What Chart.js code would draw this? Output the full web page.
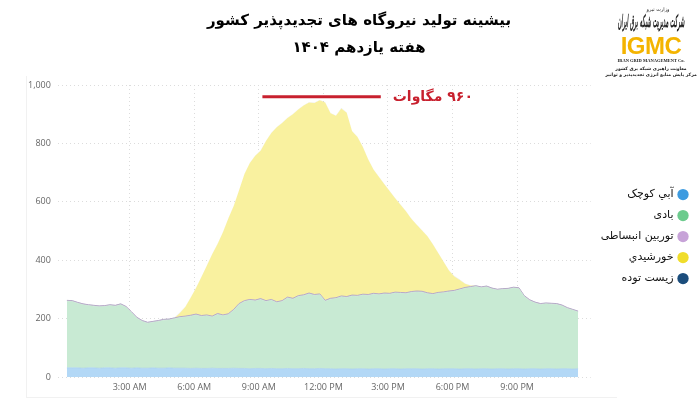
<!DOCTYPE html>
<html lang="fa">
<head>
<meta charset="utf-8">
<title>بیشینه تولید نیروگاه های تجدیدپذیر کشور</title>
<script src="https://cdn.jsdelivr.net/npm/chart.js@4.4.1/dist/chart.umd.min.js"></script>
<style>
body{margin:0;background:#fff;}
#wrap{position:relative;width:700px;height:399px;overflow:hidden;}
#frame{position:absolute;left:26px;top:76px;width:590px;height:321px;border-left:1px solid #f1f1f1;border-bottom:1px solid #f1f1f1;}
#grafico{direction:ltr;}
#logo{position:absolute;left:603px;top:7px;width:96px;text-align:center;direction:rtl;color:#222;font-family:"DejaVu Sans";line-height:1;}
#logo .l1{font-size:5px;margin-left:14px;}
#logo .l2{font-size:10px;font-style:italic;font-weight:bold;margin-top:2px;white-space:nowrap;transform:scale(0.5,1.7);height:16px;line-height:16px;margin-left:-40px;margin-right:-40px;}
#logo .l3{font-family:"Liberation Sans";font-weight:bold;font-size:24px;color:#f4b400;direction:ltr;margin-top:4px;letter-spacing:-0.5px;}
#logo .l4{font-family:"Liberation Serif";font-weight:bold;font-size:4.5px;direction:ltr;margin-top:1px;}
#logo .l5{font-size:4.5px;font-weight:bold;margin-top:3px;white-space:nowrap;}
#logo .l6{font-size:4.5px;font-weight:bold;margin-top:2px;white-space:nowrap;}
</style>
</head>
<body>
<div id="wrap">
  <div id="frame"></div>
  <canvas id="grafico" width="700" height="399"></canvas>
  <div id="logo">
    <div class="l1">وزارت نیرو</div>
    <div class="l2">شرکت مدیریت شبکه برق ایران</div>
    <div class="l3">IGMC</div>
    <div class="l4">IRAN GRID MANAGEMENT Co.</div>
    <div class="l5">معاونت راهبری شبکه برق کشور</div>
    <div class="l6">مرکز پایش منابع انرژی تجدیدپذیر و توانیر</div>
  </div>
</div>
<script>
const titulo = ['بیشینه تولید نیروگاه های تجدیدپذیر کشور', 'هفته یازدهم ۱۴۰۴'];
const nombresSeries = ['آبي کوچک', 'بادی', 'توربین انبساطی', 'خورشیدي', 'زیست توده'];
const coloresLeyenda = ['#3d9be0', '#6ccb8d', '#c7a3d8', '#f0dd2b', '#1b4d7c'];
const coloresRelleno = ['#b3d8f6', '#c8ead3', '#c9bcd6', '#f9f19f', 'rgba(27,77,124,0.15)'];
const coloresBorde = ['#a6cdef', '#c8ead3', '#b5a6c6', 'rgba(0,0,0,0)', 'rgba(0,0,0,0)'];

// hora de cada muestra (cada 15 min)
const horas = [
  '00:05','00:20','00:35','00:50','01:05','01:20','01:35','01:50','02:05','02:20','02:35','02:50',
  '03:05','03:20','03:35','03:50','04:05','04:20','04:35','04:50','05:05','05:20','05:35','05:50',
  '06:05','06:20','06:35','06:50','07:05','07:20','07:35','07:50','08:05','08:20','08:35','08:50',
  '09:05','09:20','09:35','09:50','10:05','10:20','10:35','10:50','11:05','11:20','11:35','11:50',
  '12:05','12:20','12:35','12:50','13:05','13:20','13:35','13:50','14:05','14:20','14:35','14:50',
  '15:05','15:20','15:35','15:50','16:05','16:20','16:35','16:50','17:05','17:20','17:35','17:50',
  '18:05','18:20','18:35','18:50','19:05','19:20','19:35','19:50','20:05','20:20','20:35','20:50',
  '21:05','21:20','21:35','21:50','22:05','22:20','22:35','22:50','23:05','23:20','23:35','23:50'
];
const abiKuchak = [
  32,32,32,31,32,32,31,32,32,31,32,32,
  31,32,31,31,32,31,31,32,31,31,31,30,
  31,30,30,31,30,30,30,31,30,30,29,30,
  30,29,30,29,29,30,29,29,30,29,29,30,
  29,29,28,29,29,28,29,29,28,29,29,28,
  29,29,28,29,29,29,28,29,29,28,29,29,
  29,28,29,29,28,29,29,28,29,29,28,29,
  29,28,29,29,28,29,29,28,29,29,28,29
];
const badi = [
  228,227,221,217,213,211,210,210,213,212,216,207,
  190,170,160,154,156,160,164,164,169,173,175,179,
  182,178,180,175,185,180,184,198,219,229,234,231,
  236,230,233,226,230,241,238,247,249,256,251,252,
  231,238,241,246,244,250,248,252,252,255,253,257,
  255,259,259,257,261,263,263,257,254,259,260,263,
  265,271,275,278,282,277,280,274,269,271,273,276,
  274,248,233,225,221,222,221,221,215,206,201,194
];
const turbinEnbesati = [
  3,3,3,3,3,3,3,3,3,3,3,3,
  3,3,3,3,3,3,3,3,3,3,3,3,
  3,3,3,3,3,3,3,3,3,3,3,3,
  3,3,3,3,3,3,3,3,3,3,3,3,
  3,3,3,3,3,3,3,3,3,3,3,3,
  3,3,3,3,3,3,3,3,3,3,3,3,
  3,3,3,3,3,3,3,3,3,3,3,3,
  3,3,3,3,3,3,3,3,3,3,3,3
];
const khorshidi = [
  0,0,0,0,0,0,0,0,0,0,0,0,
  0,0,0,0,0,0,0,0,0,13,31,60,
  89,132,168,212,238,283,326,354,388,433,467,494,
  506,546,570,597,608,613,630,637,648,652,655,663,
  677,633,623,642,629,561,542,504,462,423,400,372,
  349,321,300,279,249,227,208,193,169,135,103,70,
  48,31,13,4,0,0,0,0,0,0,0,0,
  0,0,0,0,0,0,0,0,0,0,0,0
];
const zistTudeh = [
  1,1,1,1,1,1,1,1,1,1,1,1,
  1,1,1,1,1,1,1,1,1,1,1,1,
  1,1,1,1,1,1,1,1,1,1,1,1,
  1,1,1,1,1,1,1,1,1,1,1,1,
  1,1,1,1,1,1,1,1,1,1,1,1,
  1,1,1,1,1,1,1,1,1,1,1,1,
  1,1,1,1,1,1,1,1,1,1,1,1,
  1,1,1,1,1,1,1,1,1,1,1,1
];
const ticksHoras = [180, 360, 540, 720, 900, 1080, 1260];
const picoHoras = ['09:10', '14:40'];
const picoValor = 960;
const picoTexto = '۹۶۰ مگاوات';

function aMinutos(h) {
    let p = h.split(':');
    return Number(p[0]) * 60 + Number(p[1]);
}
function etiquetaHora(m) {
    let h = Math.floor(m / 60);
    let sufijo = h < 12 ? 'AM' : 'PM';
    let h12 = h % 12 === 0 ? 12 : h % 12;
    return h12 + ':00 ' + sufijo;
}

function loadPage() {
    let series = [abiKuchak, badi, turbinEnbesati, khorshidi, zistTudeh];
    let datasets = series.map((valores, i) => ({
        label: nombresSeries[i],
        data: valores.map((v, k) => ({ x: aMinutos(horas[k]), y: v })),
        backgroundColor: coloresRelleno[i],
        borderColor: coloresBorde[i],
        borderWidth: i === 2 ? 1 : 0.6,
        fill: i === 0 ? 'origin' : '-1',
        pointRadius: 0,
        tension: 0
    }));
    datasets.push({
        label: 'pico',
        stack: 'pico',
        data: picoHoras.map(h => ({ x: aMinutos(h), y: picoValor })),
        borderColor: '#c8202e',
        borderWidth: 3,
        fill: false,
        pointRadius: 0,
        order: -1
    });

    const etiquetaPico = {
        id: 'etiquetaPico',
        afterDatasetsDraw(chart) {
            let meta = chart.getDatasetMeta(chart.data.datasets.length - 1);
            let ultimo = meta.data[meta.data.length - 1];
            let ctx = chart.ctx;
            ctx.save();
            ctx.direction = 'rtl';
            ctx.font = 'bold 14px "DejaVu Sans"';
            ctx.fillStyle = '#c8202e';
            ctx.textAlign = 'left';
            ctx.textBaseline = 'middle';
            ctx.fillText(picoTexto, ultimo.x + 12, ultimo.y + 1);
            ctx.restore();
        }
    };

    new Chart(document.getElementById('grafico').getContext('2d'), {
        type: 'line',
        data: { datasets: datasets },
        plugins: [etiquetaPico],
        options: {
            responsive: false,
            animation: false,
            locale: 'en-US',
            layout: { padding: { left: 21, right: 3, top: 0, bottom: 1 } },
            plugins: {
                title: {
                    display: true,
                    text: titulo,
                    color: '#000',
                    font: { family: 'DejaVu Sans', size: 15, weight: 'bold', lineHeight: 1.8 },
                    padding: { top: 8, bottom: 23 }
                },
                legend: {
                    position: 'right',
                    rtl: true,
                    title: { display: true, text: ' ', padding: { top: 62, bottom: 0 }, font: { size: 11 } },
                    labels: {
                        usePointStyle: true,
                        boxWidth: 8,
                        boxHeight: 8,
                        padding: 10,
                        color: '#111',
                        font: { family: 'DejaVu Sans', size: 11 },
                        generateLabels: function(chart) {
                            return nombresSeries.map((nombre, i) => ({
                                text: nombre,
                                fillStyle: coloresLeyenda[i],
                                strokeStyle: coloresLeyenda[i],
                                fontColor: '#111',
                                lineWidth: 0,
                                pointStyle: 'circle',
                                hidden: false,
                                datasetIndex: i
                            }));
                        }
                    }
                },
                tooltip: { enabled: false }
            },
            scales: {
                x: {
                    type: 'linear',
                    min: -20,
                    max: 1465,
                    afterBuildTicks: function(scale) {
                        scale.ticks = ticksHoras.map(v => ({ value: v }));
                    },
                    ticks: {
                        color: '#666',
                        font: { family: 'Open Sans', size: 9 },
                        padding: 5,
                        maxRotation: 0,
                        callback: v => etiquetaHora(v)
                    },
                    grid: { color: '#dcdcdc', drawTicks: false },
                    border: { display: false, dash: [1, 3] }
                },
                y: {
                    stacked: true,
                    min: 0,
                    max: 1000,
                    ticks: {
                        stepSize: 200,
                        color: '#666',
                        font: { family: 'Open Sans', size: 9 },
                        padding: 7
                    },
                    grid: { color: '#dcdcdc', drawTicks: false },
                    border: { display: false, dash: [1, 3] }
                }
            }
        }
    });
}
window.addEventListener('DOMContentLoaded', loadPage);
</script>
</body>
</html>
